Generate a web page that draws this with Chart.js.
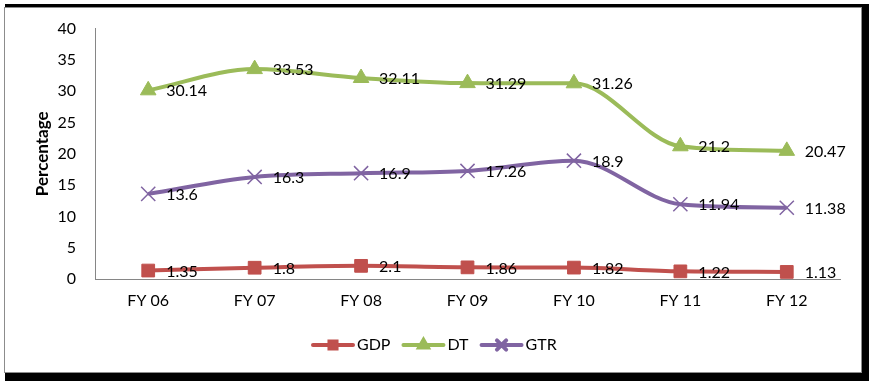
<!DOCTYPE html>
<html>
<head>
<meta charset="utf-8">
<script src="https://cdn.jsdelivr.net/npm/chart.js@4"></script>
<style>
	body { margin: 0; background: #fff; }
	#wrap { position: relative; width: 872px; height: 382px; }
	#shadow { position: absolute; left: 5px; top: 4px; width: 864px; height: 377px; background: #000; }
	#frame { position: absolute; left: 4px; top: 7px; width: 856px; height: 364px; background: #fff; border: 1px solid #8c8c8c; }
	canvas { position: absolute; left: 0; top: 0; }
</style>
</head>
<body>
<div id="wrap">
	<div id="shadow"></div>
	<div id="frame"></div>
	<canvas id="chart" width="872" height="382"></canvas>
</div>
<script>
const years = ['FY 06', 'FY 07', 'FY 08', 'FY 09', 'FY 10', 'FY 11', 'FY 12']
const gdp = [1.35, 1.8, 2.1, 1.86, 1.82, 1.22, 1.13]
const dt = [30.14, 33.53, 32.11, 31.29, 31.26, 21.2, 20.47]
const gtr = [13.6, 16.3, 16.9, 17.26, 18.9, 11.94, 11.38]

const fontFamily = 'Lato, "Open Sans", sans-serif'

// value labels to the right of each point
const valueLabels = {
	id: 'valueLabels',
	afterDatasetsDraw(chart) {
		const ctx = chart.ctx
		ctx.save()
		ctx.font = '16px ' + fontFamily
		ctx.fillStyle = '#000'
		ctx.textAlign = 'left'
		ctx.textBaseline = 'middle'
		chart.data.datasets.forEach((ds, i) => {
			const meta = chart.getDatasetMeta(i)
			meta.data.forEach((pt, j) => {
				ctx.fillText(String(ds.data[j]), pt.x + 18, pt.y + 1)
			})
		})
		ctx.restore()
	}
}

// excel style legend: line with marker in the middle
const lineLegend = {
	id: 'lineLegend',
	afterDraw(chart) {
		const ctx = chart.ctx
		const y = 345
		let x = 313
		ctx.save()
		ctx.font = '16px ' + fontFamily
		ctx.textBaseline = 'middle'
		chart.data.datasets.forEach(ds => {
			ctx.strokeStyle = ds.borderColor
			ctx.lineWidth = 4
			ctx.lineCap = 'round'
			ctx.beginPath()
			ctx.moveTo(x, y)
			ctx.lineTo(x + 40, y)
			ctx.stroke()
			ctx.fillStyle = ds.borderColor
			ctx.strokeStyle = ds.borderColor
			const r = ds.pointStyle === 'rect' ? 5 : (ds.pointStyle === 'triangle' ? 5 : 6.5)
			Chart.helpers.drawPoint(ctx, {
				pointStyle: ds.pointStyle,
				radius: r,
				borderWidth: 1
			}, x + 20, y)
			ctx.fillStyle = '#000'
			ctx.fillText(ds.label, x + 44, y)
			x += 44 + ctx.measureText(ds.label).width + 13
		})
		ctx.restore()
	}
}

function series(label, data, color, style, radius) {
	return {
		label: label,
		data: data,
		borderColor: color,
		backgroundColor: color,
		pointBackgroundColor: color,
		pointBorderColor: color,
		pointStyle: style,
		pointRadius: radius,
		pointBorderWidth: style === 'crossRot' ? 1.5 : 1,
		borderWidth: 4,
		tension: 0.4,
		cubicInterpolationMode: 'monotone'
	}
}

new Chart(document.getElementById('chart'), {
	type: 'line',
	data: {
		labels: years,
		datasets: [
			series('GDP', gdp, '#C0504D', 'rect', 9),
			series('DT', dt, '#9BBB59', 'triangle', 9),
			series('GTR', gtr, '#8064A2', 'crossRot', 10)
		]
	},
	options: {
		responsive: false,
		animation: false,
		layout: { padding: { left: 32, right: 32, top: 28, bottom: 0 } },
		plugins: {
			legend: { display: false },
			tooltip: { enabled: false }
		},
		scales: {
			x: {
				offset: true,
				grid: { display: false, drawTicks: false },
				border: { color: '#868686', width: 1 },
				ticks: { color: '#000', padding: 12, font: { family: fontFamily, size: 16 } },
				afterFit(scale) { scale.height = 103 }
			},
			y: {
				min: 0,
				max: 40,
				ticks: { stepSize: 5, color: '#000', padding: 19, font: { family: fontFamily, size: 16 } },
				grid: { display: false, drawTicks: false },
				border: { color: '#868686', width: 1 },
				title: {
					display: true,
					text: 'Percentage',
					color: '#000',
					font: { family: fontFamily, size: 17, weight: 'bold' },
					padding: 0
				},
				afterFit(scale) { scale.width = 63 }
			}
		}
	},
	plugins: [valueLabels, lineLegend]
})
</script>
</body>
</html>
